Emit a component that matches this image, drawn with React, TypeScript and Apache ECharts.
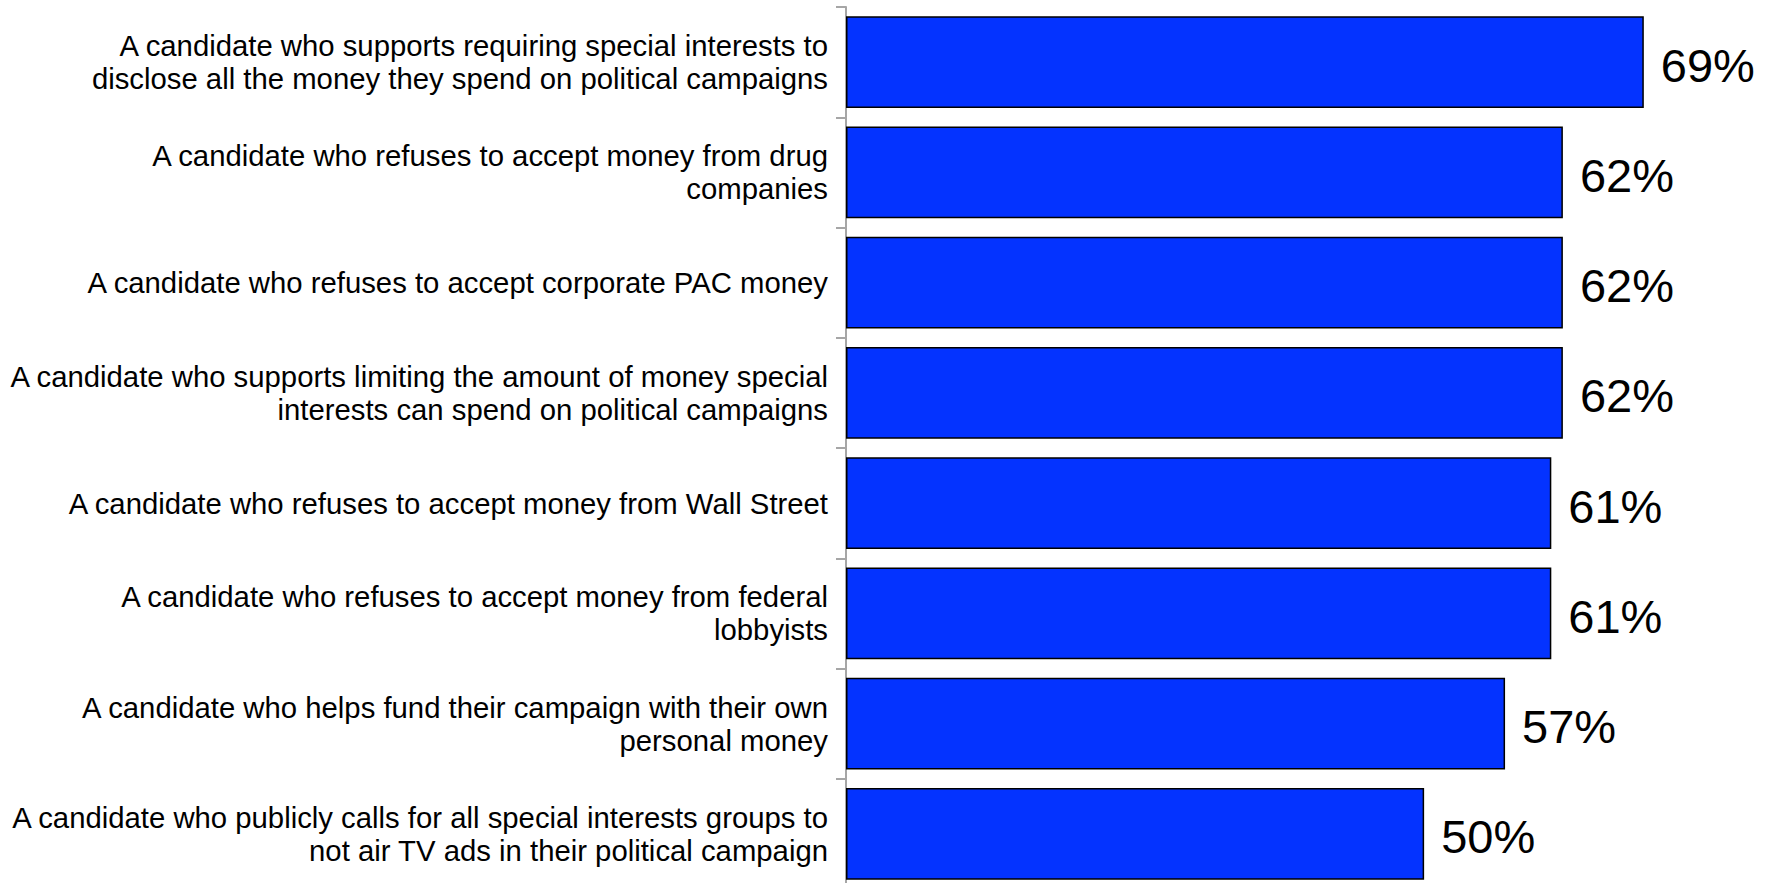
import React, { useEffect, useRef } from "react";
import * as echarts from "echarts";

const categories: string[] = [
  "A candidate who supports requiring special interests to\ndisclose all the money they spend on political campaigns",
  "A candidate who refuses to accept money from drug\ncompanies",
  "A candidate who refuses to accept corporate PAC money",
  "A candidate who supports limiting the amount of money special\ninterests can spend on political campaigns",
  "A candidate who refuses to accept money from Wall Street",
  "A candidate who refuses to accept money from federal\nlobbyists",
  "A candidate who helps fund their campaign with their own\npersonal money",
  "A candidate who publicly calls for all special interests groups to\nnot air TV ads in their political campaign",
];

const values: number[] = [69, 62, 62, 62, 61, 61, 57, 50];

const FONT = "'Liberation Sans', Arial, sans-serif";

export default function App() {
  const ref = useRef<HTMLDivElement>(null);
  useEffect(() => {
    if (!ref.current) return;
    const chart = echarts.init(ref.current, null, { renderer: "svg" });
    chart.setOption({
      animation: false,
      backgroundColor: "#ffffff",
      grid: { left: 846, top: 7, width: 925, height: 882, containLabel: false },
      xAxis: {
        type: "value",
        min: 0,
        max: 80,
        show: false,
        splitLine: { show: false },
      },
      yAxis: {
        type: "category",
        inverse: true,
        data: categories,
        axisLine: { show: true, lineStyle: { color: "#a6a6a6", width: 2 } },
        axisTick: { show: true, length: 10, lineStyle: { color: "#a6a6a6", width: 2 } },
        axisLabel: {
          margin: 18,
          fontSize: 29.3,
          lineHeight: 33,
          padding: [6, 0, 0, 0],
          color: "#000000",
          fontFamily: FONT,
          align: "right",
        },
        splitLine: { show: false },
      },
      series: [
        {
          type: "bar",
          data: values,
          barCategoryGap: "17%",
          itemStyle: { color: "#0433ff", borderColor: "#000000", borderWidth: 1.5 },
          label: {
            show: true,
            position: "right",
            distance: 17,
            offset: [0, 3],
            formatter: "{c}%",
            fontSize: 47,
            color: "#000000",
            fontFamily: FONT,
          },
        },
      ],
    });
    return () => chart.dispose();
  }, []);
  return (
    <div
      style={{ position: "fixed", left: 0, top: 0, width: 1775, height: 883, overflow: "hidden", background: "#fff" }}
    >
      <div ref={ref} style={{ width: 1775, height: 900 }} />
    </div>
  );
}
